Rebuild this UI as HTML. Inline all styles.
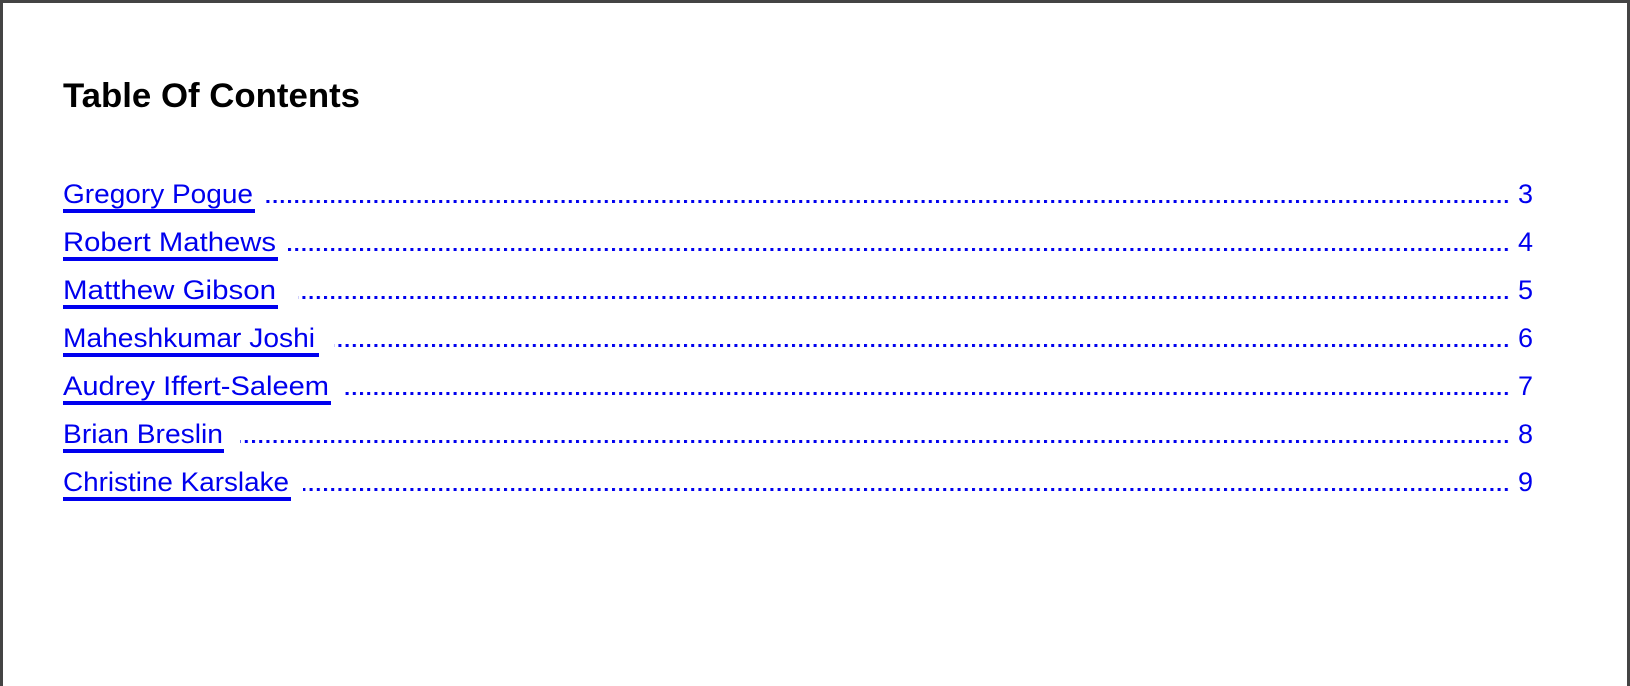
<!DOCTYPE html>
<html><head><style>
html,body{margin:0;padding:0;background:#fff;}
svg{display:block;}
</style></head><body>
<svg width="1630" height="686" viewBox="0 0 1630 686" xmlns="http://www.w3.org/2000/svg">
<defs>
<pattern id="dots" x="0" y="0" width="7.2" height="4" patternUnits="userSpaceOnUse">
<rect x="0" y="0" width="3" height="3" fill="#0000ee"/>
</pattern>
</defs>
<rect x="0" y="0" width="1630" height="686" fill="#fff"/>
<rect x="0" y="0" width="1630" height="3" fill="#444"/>
<rect x="0" y="0" width="3" height="686" fill="#444"/>
<rect x="1627" y="0" width="3" height="686" fill="#444"/>
<text x="63" y="107" font-family="Liberation Sans, sans-serif" font-weight="bold" font-size="34" textLength="297" lengthAdjust="spacingAndGlyphs" fill="#000">Table Of Contents</text>
<g font-family="Liberation Sans, sans-serif" font-size="27" fill="#0000ee">
<text x="63" y="203" textLength="190" lengthAdjust="spacingAndGlyphs">Gregory Pogue</text>
<rect x="63" y="209" width="192" height="4"/>
<rect x="263" y="200" width="1246" height="4" fill="url(#dots)"/>
<text x="1518" y="203">3</text>

<text x="63" y="251" textLength="213" lengthAdjust="spacingAndGlyphs">Robert Mathews</text>
<rect x="63" y="257" width="215" height="4"/>
<rect x="287" y="248" width="1222" height="4" fill="url(#dots)"/>
<text x="1518" y="251">4</text>

<text x="63" y="299" textLength="213" lengthAdjust="spacingAndGlyphs">Matthew Gibson</text>
<rect x="63" y="305" width="215" height="4"/>
<rect x="298" y="296" width="1211" height="4" fill="url(#dots)"/>
<text x="1518" y="299">5</text>

<text x="63" y="347" textLength="252" lengthAdjust="spacingAndGlyphs">Maheshkumar Joshi</text>
<rect x="63" y="353" width="256" height="4"/>
<rect x="334" y="344" width="1175" height="4" fill="url(#dots)"/>
<text x="1518" y="347">6</text>

<text x="63" y="395" textLength="266" lengthAdjust="spacingAndGlyphs">Audrey Iffert-Saleem</text>
<rect x="63" y="401" width="268" height="4"/>
<rect x="343" y="392" width="1166" height="4" fill="url(#dots)"/>
<text x="1518" y="395">7</text>

<text x="63" y="443" textLength="160" lengthAdjust="spacingAndGlyphs">Brian Breslin</text>
<rect x="63" y="449" width="161" height="4"/>
<rect x="240" y="440" width="1269" height="4" fill="url(#dots)"/>
<text x="1518" y="443">8</text>

<text x="63" y="491" textLength="226" lengthAdjust="spacingAndGlyphs">Christine Karslake</text>
<rect x="63" y="497" width="228" height="4"/>
<rect x="303" y="488" width="1206" height="4" fill="url(#dots)"/>
<text x="1518" y="491">9</text>
</g>
</svg>
</body></html>
